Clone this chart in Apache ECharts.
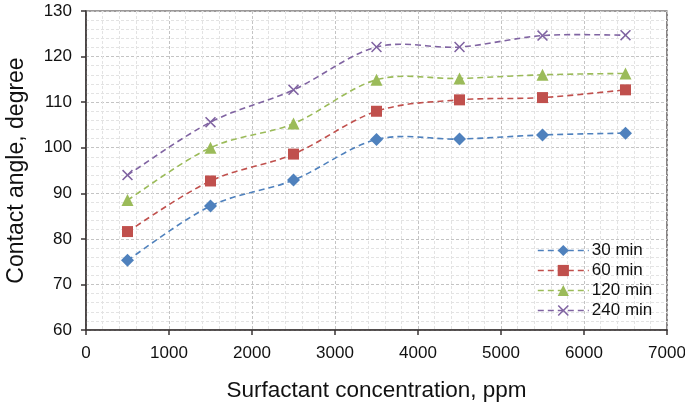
<!DOCTYPE html>
<html><head><meta charset="utf-8">
<script src="https://cdn.jsdelivr.net/npm/echarts@6/dist/echarts.min.js"></script>
<style>html,body{margin:0;padding:0;background:#fff}#c{width:685px;height:408px}</style>
</head><body><div id="c"></div>
<script>
var concentrations = [500, 1500, 2500, 3500, 4500, 5500, 6500];
var s30 = [75.3, 87.2, 92.9, 101.8, 101.9, 102.8, 103.2];
var s60 = [81.6, 92.7, 98.6, 108.0, 110.5, 111.0, 112.7];
var s120 = [88.5, 100.0, 105.3, 114.9, 115.2, 116.0, 116.3];
var s240 = [94.0, 105.6, 112.7, 122.1, 122.1, 124.6, 124.7];
var seriesNames = ['30 min', '60 min', '120 min', '240 min'];
var xTitle = 'Surfactant concentration, ppm';
var yTitle = 'Contact angle, degree';

var colors = ['#4F81BD', '#C0504D', '#9BBB59', '#8064A2'];
var xSym = 'path://M0,1L1,0L5,4L9,0L10,1L6,5L10,9L9,10L5,6L1,10L0,9L4,5Z';
var symbols = ['diamond', 'rect', 'triangle', xSym];
var sizes = [13, 11, 12, 11];
var allData = [s30, s60, s120, s240];
var font = 'Liberation Sans, Arial, sans-serif';
var dash = [6, 4];

function pairs(vals){ return concentrations.map(function(x,i){ return [x, vals[i]]; }); }

// Excel-like (Catmull-Rom) smoothed curve through the data, positioned via api.coord
function makeRender(vals, color){
  return function(params, api){
    if (params.dataIndex !== 0) return null;
    var pts = concentrations.map(function(x,i){ return api.coord([x, vals[i]]); });
    var n = pts.length, d = 'M' + pts[0][0] + ',' + pts[0][1];
    for (var i = 0; i < n - 1; i++){
      var p0 = pts[i > 0 ? i - 1 : i], p1 = pts[i], p2 = pts[i + 1], p3 = pts[i + 2 < n ? i + 2 : i + 1];
      var c1x = p1[0] + (p2[0] - p0[0]) / 6, c1y = p1[1] + (p2[1] - p0[1]) / 6;
      var c2x = p2[0] - (p3[0] - p1[0]) / 6, c2y = p2[1] - (p3[1] - p1[1]) / 6;
      d += 'C' + c1x + ',' + c1y + ',' + c2x + ',' + c2y + ',' + p2[0] + ',' + p2[1];
    }
    return { type: 'path', shape: { pathData: d }, style: { stroke: color, fill: null, lineWidth: 1.6, lineDash: dash } };
  };
}

var series = [];
allData.forEach(function(vals, k){
  series.push({
    name: '_curve' + k, type: 'custom', data: pairs(vals), encode: { x: 0, y: 1 },
    renderItem: makeRender(vals, colors[k]), silent: true, z: 2
  });
});
allData.forEach(function(vals, k){
  series.push({
    name: seriesNames[k], type: 'line', data: pairs(vals),
    symbol: symbols[k], symbolSize: sizes[k],
    lineStyle: { color: colors[k], width: 1.6, type: dash, opacity: 0 },
    itemStyle: { color: colors[k] },
    z: 3
  });
});

var legendData = seriesNames.map(function(n, k){
  return { name: n, lineStyle: { color: colors[k], width: 1.6, type: dash, opacity: 1 } };
});

var chart = echarts.init(document.getElementById('c'), null, {renderer: 'canvas'});
chart.setOption({
  animation: false,
  color: colors,
  grid: { left: 86, top: 11, right: 18, bottom: 78, show: true, borderColor: '#3a3434', borderWidth: 1.2, containLabel: false, outerBoundsMode: 'none' },
  legend: {
    orient: 'vertical', left: 532, top: 237,
    itemWidth: 51, itemHeight: 14, itemGap: 3,
    textStyle: { fontFamily: font, fontSize: 17, color: '#111', padding: [0,0,0,-2] },
    data: legendData
  },
  xAxis: {
    type: 'value', min: 0, max: 7000, interval: 1000,
    name: xTitle, nameLocation: 'middle', nameGap: 49,
    nameTextStyle: { fontFamily: font, fontSize: 22.5, color: '#111' },
    axisLine: { show: true, lineStyle: { color: '#3a3434', width: 1.5 } },
    axisTick: { show: true, inside: false, length: 5, lineStyle: { color: '#3a3434', width: 1.5 } },
    axisLabel: { fontFamily: font, fontSize: 17, color: '#111', margin: 15, formatter: function(v){ return String(v); } },
    splitLine: { show: true, lineStyle: { color: '#c4c4c4', type: [3, 2], width: 1 } },
    minorTick: { show: false, splitNumber: 5 },
    minorSplitLine: { show: true, lineStyle: { color: '#e3e3e3', type: [3, 2], width: 1 } }
  },
  yAxis: {
    type: 'value', min: 60, max: 130, interval: 10,
    name: yTitle, nameLocation: 'middle', nameGap: 58,
    nameTextStyle: { fontFamily: font, fontSize: 23, color: '#111' },
    axisLine: { show: true, lineStyle: { color: '#3a3434', width: 1.5 } },
    axisTick: { show: true, inside: false, length: 5, lineStyle: { color: '#3a3434', width: 1.5 } },
    axisLabel: { fontFamily: font, fontSize: 17, color: '#111', margin: 14 },
    splitLine: { show: true, lineStyle: { color: '#c4c4c4', type: [3, 2], width: 1 } },
    minorTick: { show: false, splitNumber: 5 },
    minorSplitLine: { show: true, lineStyle: { color: '#e3e3e3', type: [3, 2], width: 1 } }
  },
  series: series
});
</script></body></html>
